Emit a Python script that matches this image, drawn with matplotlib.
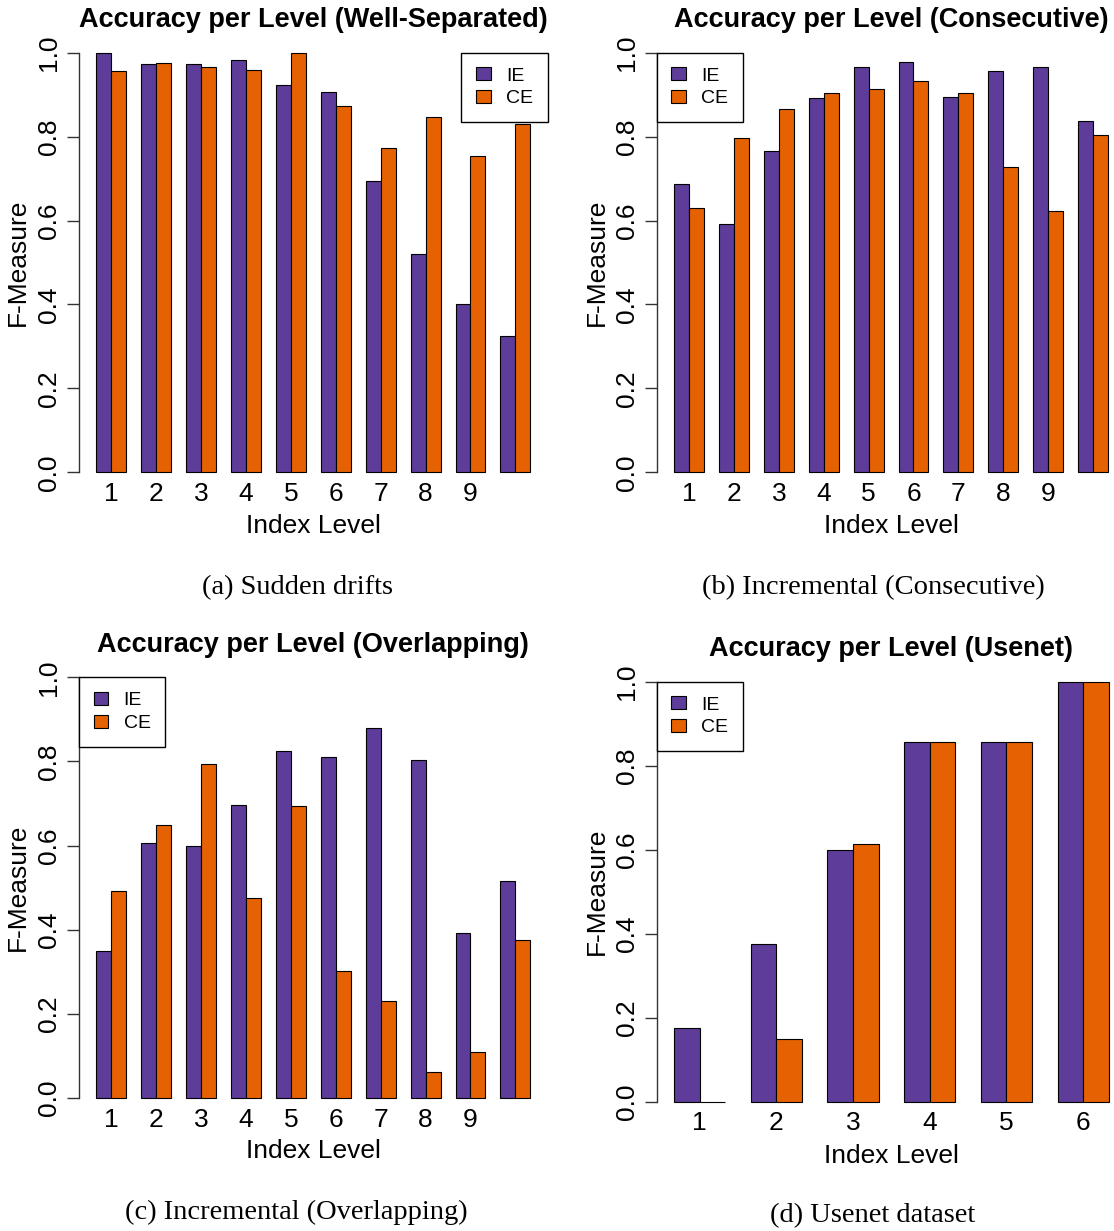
import matplotlib
matplotlib.use("Agg")
import matplotlib.pyplot as plt
from matplotlib.patches import Patch

plt.rcParams['font.family'] = ['Liberation Sans', 'DejaVu Sans']

# ---------------- data ----------------
series_names = ["IE", "CE"]
colors = ["#5E3C99", "#E66101"]

levels_10 = [1, 2, 3, 4, 5, 6, 7, 8, 9, 10]
labels_10 = ["1", "2", "3", "4", "5", "6", "7", "8", "9", ""]
levels_6 = [1, 2, 3, 4, 5, 6]
labels_6 = ["1", "2", "3", "4", "5", "6"]

sudden_ie = [1.000, 0.972, 0.972, 0.983, 0.924, 0.906, 0.694, 0.520, 0.400, 0.324]
sudden_ce = [0.957, 0.975, 0.965, 0.959, 1.000, 0.874, 0.773, 0.847, 0.754, 0.829]

consec_ie = [0.686, 0.591, 0.766, 0.893, 0.965, 0.977, 0.894, 0.957, 0.967, 0.838]
consec_ce = [0.631, 0.797, 0.867, 0.905, 0.914, 0.932, 0.905, 0.728, 0.622, 0.805]

overlap_ie = [0.349, 0.606, 0.600, 0.696, 0.824, 0.810, 0.879, 0.803, 0.392, 0.515]
overlap_ce = [0.492, 0.650, 0.794, 0.476, 0.693, 0.303, 0.231, 0.062, 0.110, 0.375]

usenet_ie = [0.175, 0.375, 0.600, 0.857, 0.857, 1.000]
usenet_ce = [0.000, 0.149, 0.614, 0.857, 0.857, 1.000]

titles = ["Accuracy per Level (Well-Separated)", "Accuracy per Level (Consecutive)",
          "Accuracy per Level (Overlapping)", "Accuracy per Level (Usenet)"]
captions = ["(a) Sudden drifts", "(b) Incremental (Consecutive)",
            "(c) Incremental (Overlapping)", "(d) Usenet dataset"]
xlabel = "Index Level"
ylabel = "F-Measure"
yticks = [0.0, 0.2, 0.4, 0.6, 0.8, 1.0]
ytick_labels = ["0.0", "0.2", "0.4", "0.6", "0.8", "1.0"]

# ---------------- figure ----------------
W, H = 1114, 1231
fig = plt.figure(figsize=(W / 100, H / 100), dpi=100)


def add_axes_px(left, top, width, height):
    return fig.add_axes([left / W, 1 - (top + height) / H, width / W, height / H])


panels = [
    dict(rect=(79, 52.7, 468.7, 419.6), levels=levels_10, labels=labels_10,
         ie=sudden_ie, ce=sudden_ce, legloc="upper right",
         title_xy=(313, 20), xl_xy=(313, 526), yl_xy=(18, 262), cap_xy=(297, 588)),
    dict(rect=(656.7, 52.7, 468.7, 419.6), levels=levels_10, labels=labels_10,
         ie=consec_ie, ce=consec_ce, legloc="upper left",
         title_xy=(891, 20), xl_xy=(891, 526), yl_xy=(597, 262), cap_xy=(873, 588)),
    dict(rect=(79, 677.3, 468.7, 420.8), levels=levels_10, labels=labels_10,
         ie=overlap_ie, ce=overlap_ce, legloc="upper left",
         title_xy=(313, 645), xl_xy=(313, 1151), yl_xy=(18, 887), cap_xy=(296, 1212)),
    dict(rect=(656.7, 681.7, 469.4, 420.0), levels=levels_6, labels=labels_6,
         ie=usenet_ie, ce=usenet_ce, legloc="upper left",
         title_xy=(891, 649), xl_xy=(891, 1156), yl_xy=(597, 891), cap_xy=(873, 1216)),
]

for p, title, cap in zip(panels, titles, captions):
    ax = add_axes_px(*p["rect"])
    n = len(p["levels"])
    ie_left = [1 + 3 * i for i in range(n)]
    ce_left = [2 + 3 * i for i in range(n)]
    centers = [2 + 3 * i for i in range(n)]
    ax.bar(ie_left, p["ie"], width=1.0, align="edge", color=colors[0],
           edgecolor="black", linewidth=0.8, clip_on=False)
    ax.bar(ce_left, p["ce"], width=1.0, align="edge", color=colors[1],
           edgecolor="black", linewidth=0.8, clip_on=False)
    span = 3 * n - 1
    ax.set_xlim(1 - 0.04 * span, 3 * n + 0.04 * span)
    ax.set_ylim(0, 1)

    for s in ["top", "right", "bottom"]:
        ax.spines[s].set_visible(False)
    ax.spines["left"].set_bounds(0, 1)
    ax.spines["left"].set_color("#333333")
    ax.spines["left"].set_linewidth(1.0)

    ax.set_xticks(centers)
    ax.set_xticklabels(p["labels"])
    ax.tick_params(axis="x", length=0, pad=7, labelsize=19)
    ax.set_yticks(yticks)
    ax.set_yticklabels(ytick_labels)
    ax.tick_params(axis="y", length=9, width=1.0, color="#333333", pad=4,
                   labelsize=19, labelrotation=90)
    for t in ax.get_yticklabels():
        t.set_va("center")

    fig.text(p["title_xy"][0] / W, 1 - p["title_xy"][1] / H, title,
             ha="center", va="center", fontsize=19.5, fontweight="bold")
    fig.text(p["xl_xy"][0] / W, 1 - p["xl_xy"][1] / H, xlabel,
             ha="center", va="center", fontsize=19)
    fig.text(p["yl_xy"][0] / W, 1 - p["yl_xy"][1] / H, ylabel,
             ha="center", va="center", fontsize=19, rotation=90)
    fig.text(p["cap_xy"][0] / W, 1 - p["cap_xy"][1] / H, cap,
             ha="center", va="center", fontsize=20.5,
             family=["Liberation Serif", "DejaVu Serif"])

    handles = [Patch(facecolor=colors[0], edgecolor="black", linewidth=0.8),
               Patch(facecolor=colors[1], edgecolor="black", linewidth=0.8)]
    if p["legloc"] == "upper right":
        anchor = (1.0, 1.0)
    else:
        anchor = (0.0, 1.0)
    leg = ax.legend(handles, series_names, loc=p["legloc"], bbox_to_anchor=anchor,
                    borderaxespad=0, fontsize=14, frameon=True, fancybox=False,
                    handlelength=0.75, handleheight=0.65, handletextpad=0.8,
                    borderpad=0.75, labelspacing=0.28)
    fr = leg.get_frame()
    fr.set_edgecolor("black")
    fr.set_linewidth(1.0)
    fr.set_alpha(1)

fig.savefig("out.png", dpi=100)
